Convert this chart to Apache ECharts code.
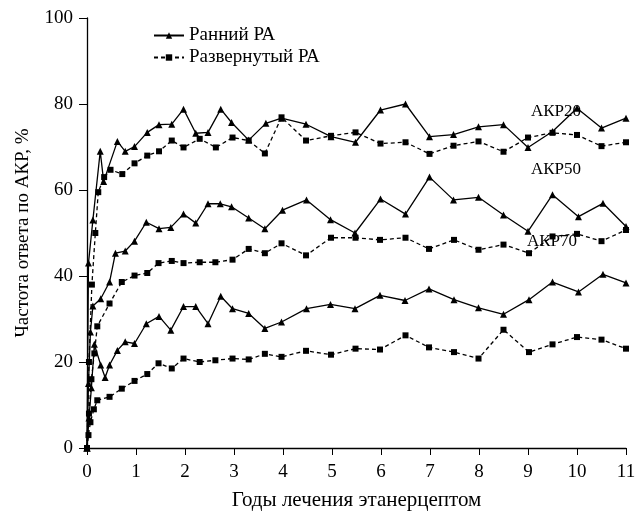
<!DOCTYPE html>
<html><head><meta charset="utf-8">
<script src="https://cdn.jsdelivr.net/npm/echarts@6/dist/echarts.min.js"></script>
<style>html,body{margin:0;padding:0;background:#fff}#c{width:639px;height:512px}</style>
</head><body><div id="c"></div>
<script>
// Data: [years, percent]
const akr20Early = [[0,0],[0.03,43],[0.12,53],[0.27,69],[0.34,62],[0.62,71.3],[0.78,69],[0.97,70.1],[1.23,73.4],[1.47,75.2],[1.73,75.3],[1.97,78.8],[2.22,73.2],[2.47,73.4],[2.73,78.8],[2.95,75.7],[3.3,71.6],[3.65,75.5],[3.97,76.7],[4.47,75.3],[4.98,72.4],[5.48,71.1],[5.99,78.6],[6.5,80],[6.99,72.4],[7.48,72.9],[7.99,74.7],[8.5,75.2],[9.0,69.9],[9.5,73.6],[10.0,79],[10.5,74.4],[11.0,76.7]];
const akr20Est = [[0,0],[0.04,20],[0.1,38],[0.17,50],[0.23,59.5],[0.35,63],[0.48,64.7],[0.72,63.7],[0.97,66.2],[1.23,68],[1.47,69],[1.73,71.5],[1.97,69.9],[2.3,71.9],[2.63,69.9],[2.97,72.2],[3.3,71.5],[3.63,68.5],[3.97,76.9],[4.47,71.5],[4.98,72.6],[5.48,73.4],[5.99,70.8],[6.5,71.1],[6.99,68.4],[7.48,70.3],[7.99,71.3],[8.5,68.9],[9.0,72.2],[9.5,73.3],[10.0,72.8],[10.5,70.2],[11.0,71.1]];
const akr50Early = [[0,0],[0.03,15],[0.07,27],[0.12,33],[0.28,34.7],[0.46,38.6],[0.58,45.3],[0.78,45.8],[0.97,48.1],[1.21,52.5],[1.47,51],[1.71,51.3],[1.97,54.4],[2.22,52.3],[2.47,56.8],[2.72,56.8],[2.95,56.1],[3.3,53.5],[3.63,51],[3.99,55.3],[4.48,57.7],[4.97,53.1],[5.47,50],[5.99,57.9],[6.5,54.4],[6.99,63],[7.48,57.7],[7.99,58.3],[8.5,54.2],[9.0,50.4],[9.5,58.9],[10.03,53.8],[10.53,56.9],[11.0,51.5]];
const akr50Est = [[0,0],[0.04,8],[0.09,16],[0.15,22],[0.21,28.3],[0.46,33.6],[0.71,38.6],[0.97,40.1],[1.23,40.7],[1.46,43],[1.73,43.5],[1.97,43],[2.3,43.2],[2.62,43.2],[2.97,43.8],[3.3,46.3],[3.63,45.3],[3.97,47.6],[4.47,44.8],[4.98,48.9],[5.48,48.9],[5.98,48.4],[6.5,48.9],[6.98,46.3],[7.49,48.4],[7.99,46.1],[8.5,47.3],[9.02,45.3],[9.5,49.2],[10.0,49.8],[10.5,48.1],[11.0,50.7]];
const akr70Early = [[0,0],[0.04,7],[0.09,14],[0.15,24.1],[0.28,19.3],[0.37,16.4],[0.46,19.3],[0.62,22.7],[0.78,24.7],[0.97,24.3],[1.21,28.9],[1.47,30.6],[1.71,27.4],[1.97,32.9],[2.22,32.9],[2.47,28.9],[2.73,35.3],[2.97,32.4],[3.3,31.3],[3.63,27.8],[3.97,29.3],[4.48,32.4],[4.97,33.4],[5.47,32.4],[5.98,35.5],[6.49,34.3],[6.98,37],[7.49,34.5],[7.99,32.6],[8.5,31.1],[9.02,34.5],[9.5,38.6],[10.03,36.3],[10.53,40.4],[11.0,38.4]];
const akr70Est = [[0,0],[0.03,3],[0.07,6],[0.14,9],[0.21,11.1],[0.46,11.9],[0.71,13.8],[0.97,15.6],[1.23,17.2],[1.46,19.7],[1.73,18.5],[1.97,20.8],[2.3,20],[2.62,20.4],[2.97,20.8],[3.3,20.6],[3.63,21.9],[3.97,21.2],[4.47,22.6],[4.98,21.7],[5.48,23.1],[5.98,22.9],[6.5,26.2],[6.98,23.4],[7.49,22.3],[7.99,20.8],[8.5,27.5],[9.02,22.3],[9.5,24.1],[10.0,25.8],[10.5,25.2],[11.0,23.1]];
const xTicks = [0,1,2,3,4,5,6,7,8,9,10,11];
const yTicks = [0,20,40,60,80,100];
const seriesNames = ['Ранний РА', 'Развернутый РА'];
const labels = ['АКР20','АКР50','АКР70'];

const FONT = '"Liberation Serif","DejaVu Serif",serif';
const chart = echarts.init(document.getElementById('c'));
function early(data){
  return {type:'line', name: seriesNames[0], data, symbol:'triangle', symbolSize:7, showSymbol:true,
    lineStyle:{color:'#000', width:1.3, type:'solid'}, itemStyle:{color:'#000'}, animation:false, z:3};
}
function est(data){
  return {type:'line', name: seriesNames[1], data, symbol:'rect', symbolSize:6,
    lineStyle:{color:'#000', width:1.3, type:[4,3]}, itemStyle:{color:'#000'}, animation:false, z:2};
}
chart.setOption({
  animation:false,
  backgroundColor:'#fff',
  textStyle:{fontFamily:FONT},
  grid:{left:87, right:13, top:18, bottom:64, outerBoundsMode:'none', containLabel:false},
  legend:{
    left:148, top:21, orient:'vertical', itemGap:3, itemWidth:30, itemHeight:8,
    data: seriesNames,
    textStyle:{fontFamily:FONT, fontSize:19, color:'#000'}
  },
  xAxis:{type:'value', min:0, max:11, interval:1,
    name:'Годы лечения этанерцептом', nameLocation:'middle', nameGap:42,
    nameTextStyle:{fontFamily:FONT, fontSize:21, color:'#000'},
    axisLine:{onZero:false, lineStyle:{color:'#000', width:1.3}},
    axisTick:{show:true, inside:false, length:7, lineStyle:{color:'#000'}},
    axisLabel:{fontFamily:FONT, fontSize:19, color:'#000', margin:15, formatter:v=>xTicks.includes(v)?String(v):''},
    splitLine:{show:false}},
  yAxis:{type:'value', min:0, max:100, interval:20,
    name:'Частота ответа по АКР, %', nameLocation:'middle', nameGap:54, nameRotate:90,
    nameTextStyle:{fontFamily:FONT, fontSize:19, color:'#000'},
    axisLine:{show:true, lineStyle:{color:'#000', width:1.3}},
    axisTick:{show:true, inside:false, length:8, lineStyle:{color:'#000'}},
    axisLabel:{fontFamily:FONT, fontSize:19, color:'#000', margin:14, formatter:v=>yTicks.includes(v)?String(v):''},
    splitLine:{show:false}},
  graphic:[
    {type:'text', left:531, top:103, style:{text:labels[0], font:'17px '+FONT, fill:'#000'}},
    {type:'text', left:531, top:161, style:{text:labels[1], font:'17px '+FONT, fill:'#000'}},
    {type:'text', left:527, top:233, style:{text:labels[2], font:'17px '+FONT, fill:'#000'}}
  ],
  series:[
    early(akr20Early), est(akr20Est),
    early(akr50Early), est(akr50Est),
    early(akr70Early), est(akr70Est)
  ]
});
</script></body></html>
